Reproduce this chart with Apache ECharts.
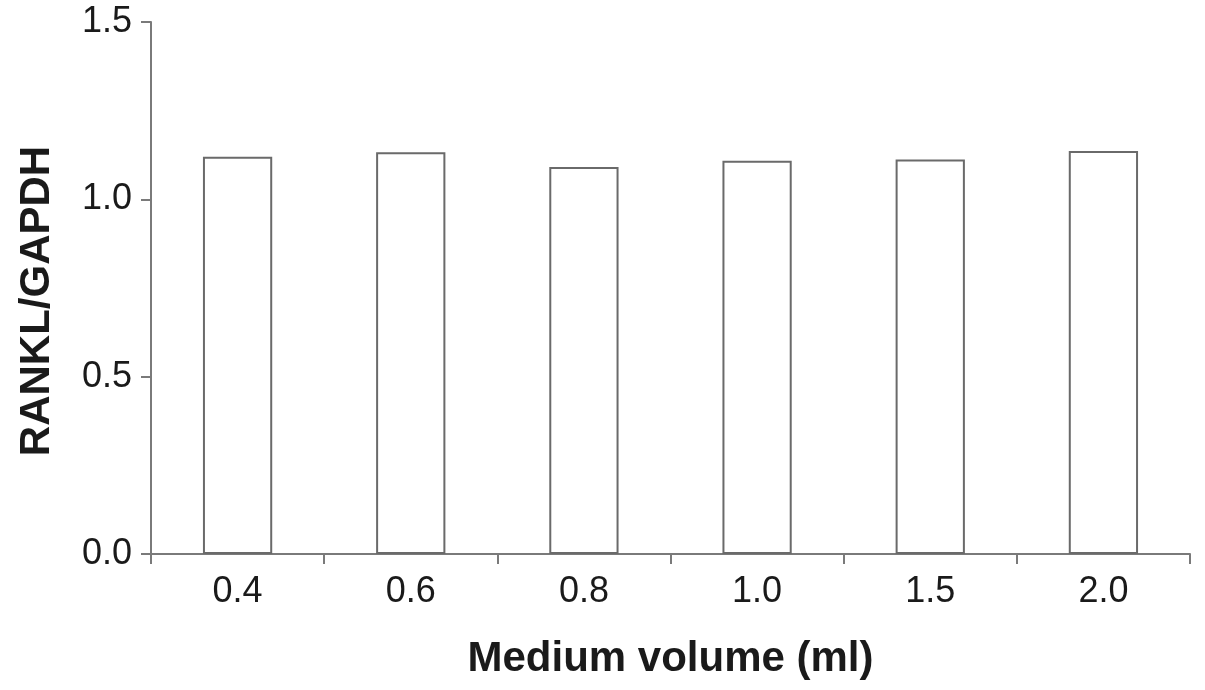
<!DOCTYPE html>
<html>
<head>
<meta charset="UTF-8">
<title>RANKL/GAPDH</title>
<script src="https://cdn.jsdelivr.net/npm/echarts@6/dist/echarts.min.js"></script>
<style>
  html, body { margin: 0; padding: 0; background: #fff; }
  #main { width: 1205px; height: 690px; }
</style>
</head>
<body>
<div id="main"></div>
<script type="text/javascript">
    // data
    var categories = ['0.4', '0.6', '0.8', '1.0', '1.5', '2.0'];
    var ratios = [1.120, 1.133, 1.091, 1.109, 1.112, 1.136];
    var yTicks = [0, 0.5, 1.0, 1.5];

    var myChart = echarts.init(document.getElementById('main'));
    var axisGray = '#7a7a7a';

    myChart.setOption({
        animation: false,
        backgroundColor: '#fff',
        grid: { left: 151, right: 15, top: 22, bottom: 136 },
        xAxis: {
            type: 'category',
            data: categories,
            name: 'Medium volume (ml)',
            nameLocation: 'middle',
            nameGap: 84,
            nameTextStyle: { fontFamily: 'Liberation Sans', fontWeight: 'bold', fontSize: 42, color: '#1a1a1a' },
            axisLine: { lineStyle: { color: axisGray, width: 2 } },
            axisTick: { show: true, length: 10, lineStyle: { color: axisGray, width: 2 } },
            axisLabel: { fontFamily: 'Liberation Sans', fontSize: 36, color: '#1a1a1a', margin: 20 }
        },
        yAxis: {
            type: 'value',
            min: yTicks[0],
            max: yTicks[yTicks.length - 1],
            interval: 0.5,
            name: 'RANKL/GAPDH',
            nameLocation: 'middle',
            nameGap: 93,
            nameTextStyle: {
                fontFamily: 'Liberation Sans', fontWeight: 'bold', fontSize: 42, color: '#1a1a1a',
                padding: [0, 26, 0, 0]
            },
            splitLine: { show: false },
            axisLine: { show: true, lineStyle: { color: axisGray, width: 2 } },
            axisTick: { show: true, length: 10, lineStyle: { color: axisGray, width: 2 } },
            axisLabel: {
                fontFamily: 'Liberation Sans', fontSize: 36, color: '#1a1a1a', margin: 19,
                formatter: function (v) { return v.toFixed(1); }
            }
        },
        series: [{
            type: 'bar',
            data: ratios,
            barWidth: '40%',
            itemStyle: { color: '#fff', borderColor: '#6a6a6a', borderWidth: 2 }
        }]
    });
</script>
</body>
</html>
